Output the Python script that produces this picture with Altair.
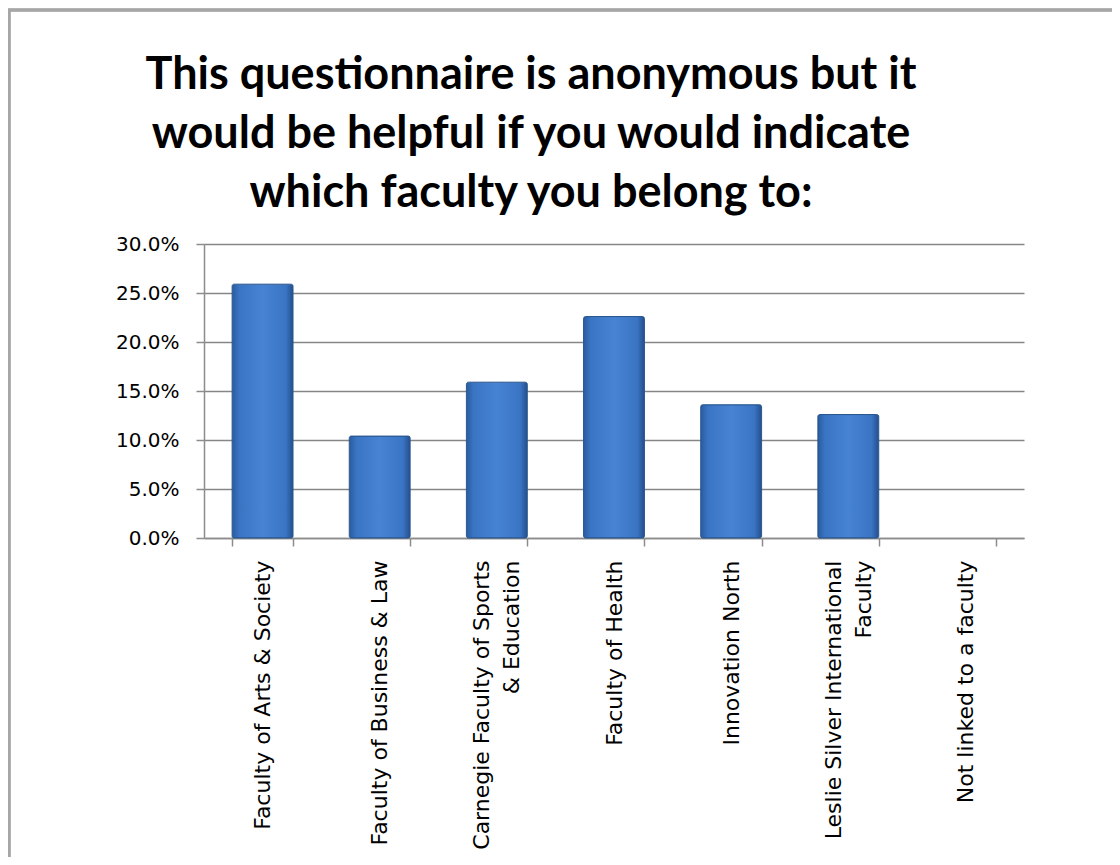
import altair as alt
import pandas as pd

categories = [
    "Faculty of Arts & Society",
    "Faculty of Business & Law",
    "Carnegie Faculty of Sports|& Education",
    "Faculty of Health",
    "Innovation North",
    "Leslie Silver International|Faculty",
    "Not linked to a faculty",
]
values = [0.259, 0.104, 0.159, 0.226, 0.136, 0.126, 0.0]
y_ticks = [0, 0.05, 0.10, 0.15, 0.20, 0.25, 0.30]

title_lines = [
    "This questionnaire is anonymous but it",
    "would be helpful if you would indicate",
    "which faculty you belong to:",
]

df = pd.DataFrame({"faculty": categories, "share": values})

LABEL_FONT = "DejaVu Sans"
TITLE_FONT = "Lato"

bar_fill = {
    "x1": 0, "y1": 0, "x2": 1, "y2": 0,
    "gradient": "linear",
    "stops": [
        {"offset": 0.0, "color": "#2a5b9e"},
        {"offset": 0.12, "color": "#3a75c4"},
        {"offset": 0.5, "color": "#4683d2"},
        {"offset": 0.88, "color": "#3a75c4"},
        {"offset": 1.0, "color": "#244f8c"},
    ],
}

x_enc = alt.X(
    "faculty:N",
    sort=categories,
    title=None,
    scale=alt.Scale(domain=categories, paddingInner=0.48, paddingOuter=0.24),
    axis=alt.Axis(
        labelAngle=270,
        labelAlign="right",
        labelBaseline="middle",
        labelFont=LABEL_FONT,
        labelFontSize=22,
        labelColor="#000000",
        labelPadding=14,
        labelLineHeight=30,
        labelOffset={"condition": {"test": "isValid(datum.value) && indexof(datum.value, '|') >= 0", "value": -15}, "value": 0},
        labelExpr="isValid(datum.value) ? split(datum.value, '|') : ''",
        labelLimit=400,
        tickBand="extent",
        tickSize=8,
        tickColor="#8c8c8c",
        tickWidth=1.5,
        domainColor="#8c8c8c",
        domainWidth=1.5,
        grid=False,
    ),
)

y_enc = alt.Y(
    "share:Q",
    title=None,
    scale=alt.Scale(domain=[0, 0.30], nice=False),
    axis=alt.Axis(
        values=y_ticks,
        format=".1%",
        labelFont=LABEL_FONT,
        labelFontSize=20,
        labelColor="#000000",
        labelPadding=17,
        tickSize=8,
        tickColor="#8c8c8c",
        tickWidth=1.5,
        domainColor="#8c8c8c",
        domainWidth=1.5,
        grid=True,
        gridColor="#868686",
        gridWidth=1.5,
    ),
)

bars = alt.Chart(df).transform_filter("datum.share > 0").mark_bar(
    color=bar_fill,
    stroke="#2a5790",
    strokeWidth=1,
    cornerRadius=2,
).encode(x=x_enc, y=y_enc)

frame = alt.Chart(df).mark_rect(
    fill=None, stroke="#a6a6a6", strokeWidth=2.5, clip=False
).encode(
    x=alt.value(-195), x2=alt.value(940),
    y=alt.value(-234), y2=alt.value(700),
)

chart = alt.layer(frame, bars).properties(
    width=820,
    height=294,
    background="white",
    autosize=alt.AutoSizeParams(type="none"),
    padding={"left": 196, "top": 236, "right": 88, "bottom": 319},
    title=alt.TitleParams(
        text=title_lines,
        font=TITLE_FONT,
        fontSize=45,
        fontWeight="bold",
        color="#000000",
        anchor="middle",
        frame="group",
        lineHeight=59,
        dx=-83,
        dy=207,
        offset=0,
    ),
).configure_view(stroke=None)

chart.save("out.html", embed_options={"renderer": "svg", "actions": False})
